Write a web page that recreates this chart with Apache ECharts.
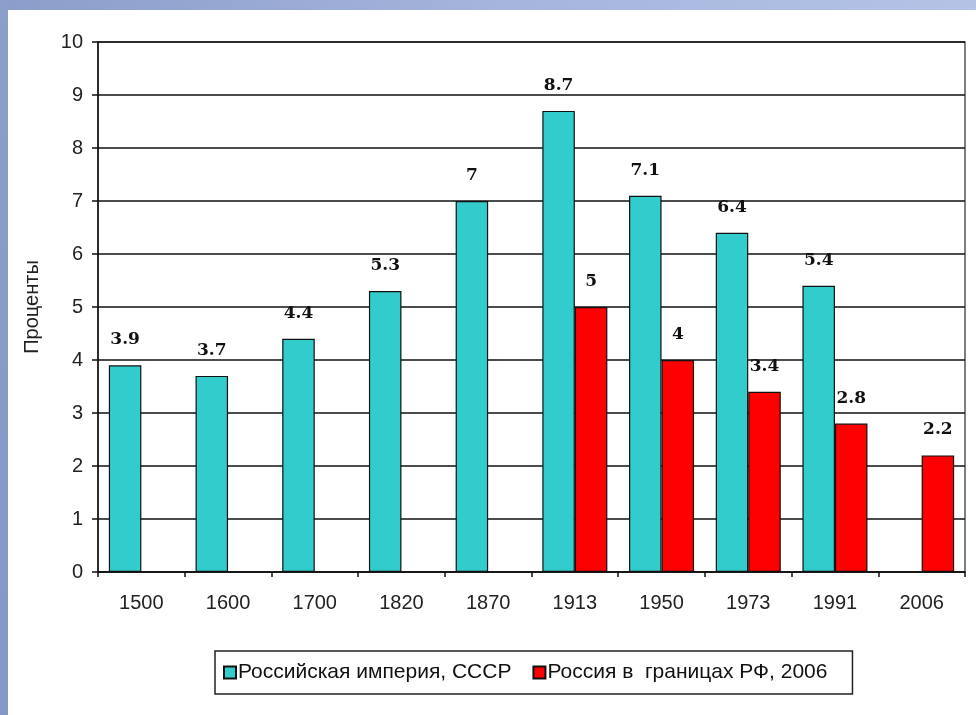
<!DOCTYPE html>
<html>
<head>
<meta charset="utf-8">
<script src="https://cdn.jsdelivr.net/npm/echarts@6/dist/echarts.min.js"></script>
<style>
html,body{margin:0;padding:0;width:976px;height:715px;overflow:hidden;}
body{background:linear-gradient(90deg,#8b9dca 0%,#a4b4dc 50%,#b4c3e6 100%);position:relative;}
#c{position:absolute;left:8px;top:10px;width:968px;height:705px;background:#fff;}
#lb{position:absolute;left:0;top:0;width:8px;height:715px;background:linear-gradient(180deg,#8c9ecb 0%,#8597c6 100%);}
</style>
</head>
<body>
<div id="lb"></div>
<div id="c"></div>
<script>
const categories = ['1500','1600','1700','1820','1870','1913','1950','1973','1991','2006'];
const empireValues = [3.9, 3.7, 4.4, 5.3, 7, 8.7, 7.1, 6.4, 5.4, null];
const russiaValues = [null, null, null, null, null, 5, 4, 3.4, 2.8, 2.2];
const seriesNames = ['Российская империя, СССР', 'Россия в  границах РФ, 2006'];
const yTicks = {min: 0, max: 10, interval: 1};

const chart = echarts.init(document.getElementById('c'), null, {renderer: 'canvas'});
const labelStyle = {
  show: true, position: 'top', distance: 17,
  fontFamily: 'DejaVu Serif', fontWeight: 'bold', fontSize: 17, color: '#111'
};
chart.setOption({
  animation: false,
  grid: {left: 90, right: 11, top: 32, bottom: 143, show: true, borderColor: '#555', borderWidth: 1.5, backgroundColor: 'transparent'},
  legend: {
    left: 207, top: 641,
    data: seriesNames,
    icon: 'rect', itemWidth: 12, itemHeight: 12, itemGap: 21,
    padding: [11, 25, 11, 8],
    borderColor: '#222', borderWidth: 1.5,
    textStyle: {fontFamily: 'Liberation Sans', fontSize: 21, color: '#111', padding: [0, 0, 0, -3]}
  },
  xAxis: {
    type: 'category', data: categories,
    axisLine: {lineStyle: {color: '#111', width: 1.5}},
    axisTick: {show: true, interval: 0, alignWithLabel: false, length: 5, lineStyle: {color: '#111', width: 1.5}},
    axisLabel: {margin: 21, fontFamily: 'Liberation Sans', fontSize: 20, color: '#222', interval: 0}
  },
  yAxis: {
    type: 'value', min: yTicks.min, max: yTicks.max, interval: yTicks.interval,
    name: 'Проценты', nameLocation: 'middle', nameGap: 56, nameRotate: 90,
    nameTextStyle: {fontFamily: 'Liberation Sans', fontSize: 20, color: '#222'},
    axisLine: {show: true, lineStyle: {color: '#111', width: 1.5}},
    axisTick: {show: true, length: 6, lineStyle: {color: '#111', width: 1.5}},
    axisLabel: {margin: 15, fontFamily: 'Liberation Sans', fontSize: 20, color: '#222'},
    splitLine: {show: true, lineStyle: {color: '#111', width: 1.5}}
  },
  series: [
    {name: seriesNames[0], type: 'bar', data: empireValues, barGap: '0%', barCategoryGap: '25%',
     itemStyle: {color: '#33cccc', borderColor: '#111', borderWidth: 1.2}, label: labelStyle},
    {name: seriesNames[1], type: 'bar', data: russiaValues, barGap: '0%', barCategoryGap: '25%',
     itemStyle: {color: '#ff0000', borderColor: '#111', borderWidth: 1.2}, label: labelStyle}
  ]
});
</script>
</body>
</html>
